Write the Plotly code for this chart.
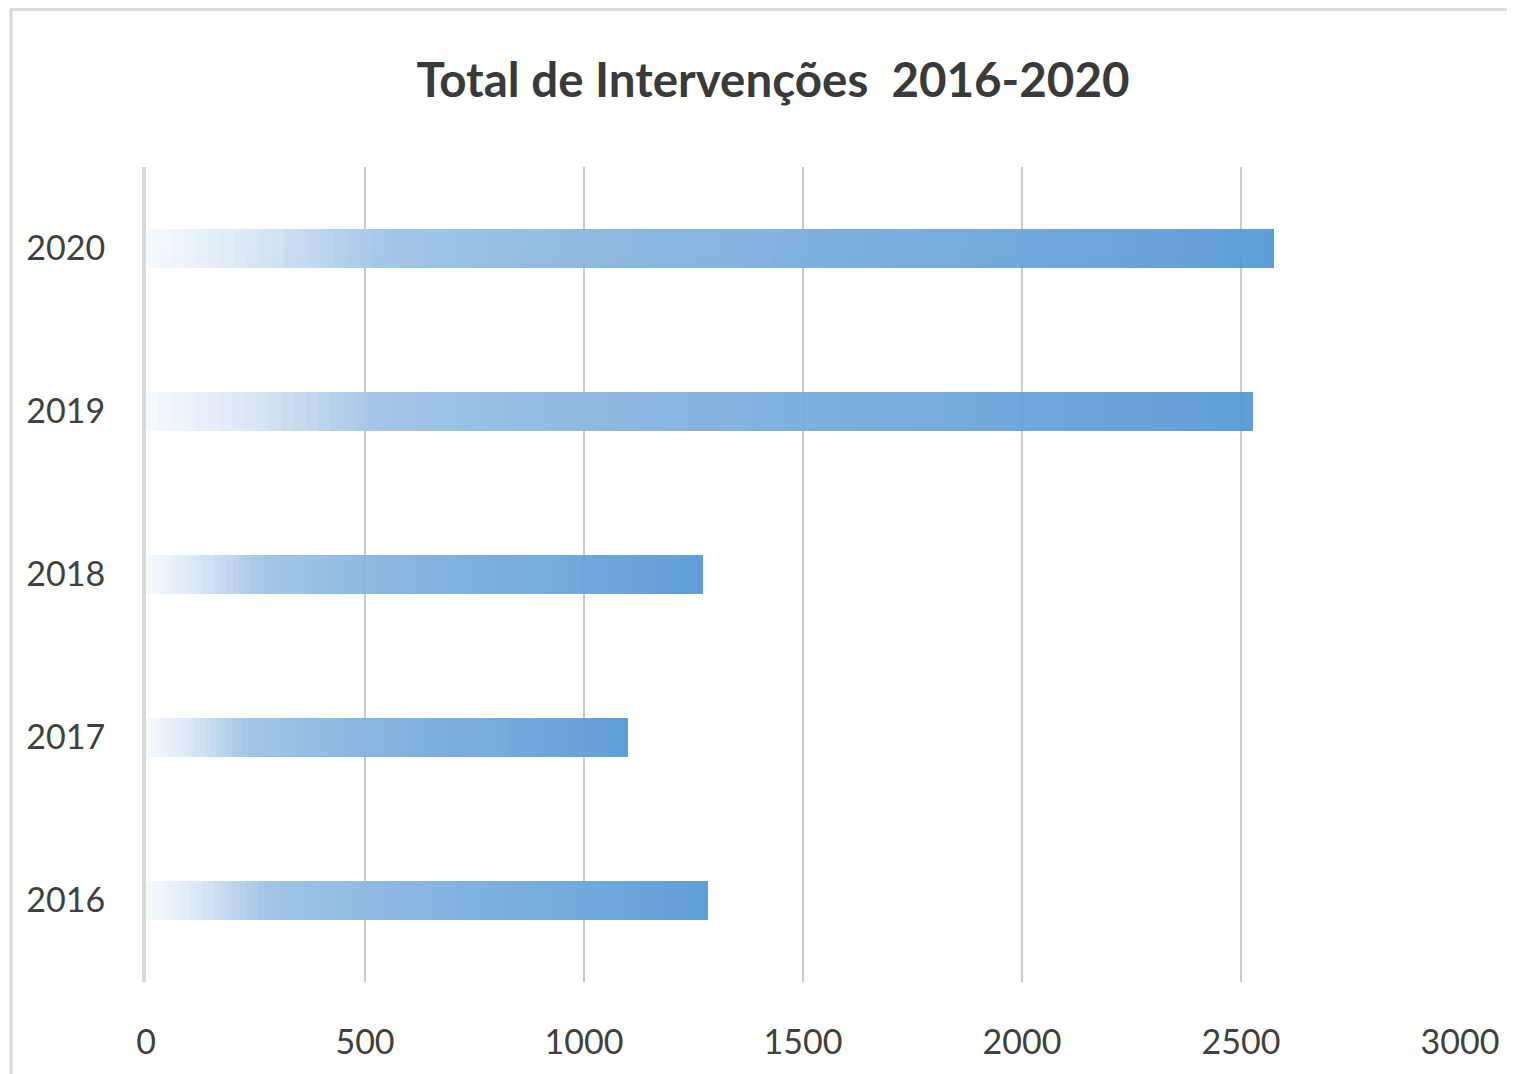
import plotly.graph_objects as go

years = ["2016", "2017", "2018", "2019", "2020"]
values = [1283, 1100, 1272, 2527, 2575]
x_ticks = [0, 500, 1000, 1500, 2000, 2500, 3000]
title_text = "Total de Intervenções  2016-2020"

# gradient stops (fraction along each bar, rgb)
stops = [
    (0.00, (247, 250, 253)),
    (0.10, (214, 229, 244)),
    (0.21, (158, 195, 230)),
    (0.45, (132, 179, 223)),
    (0.75, (108, 166, 219)),
    (1.00, (88, 153, 212)),
]


def interp(t):
    for (t0, c0), (t1, c1) in zip(stops[:-1], stops[1:]):
        if t0 <= t <= t1:
            f = (t - t0) / (t1 - t0) if t1 > t0 else 0
            return "rgb(%d,%d,%d)" % tuple(round(a + (b - a) * f) for a, b in zip(c0, c1))
    return "rgb(%d,%d,%d)" % stops[-1][1]


N = 90
fig = go.Figure()
for k in range(N):
    t = (k + 0.5) / N
    fig.add_trace(go.Bar(
        y=years,
        x=[v / N for v in values],
        orientation="h",
        marker=dict(color=interp(t), line=dict(width=0)),
        opacity=0.95,
        hoverinfo="skip",
        showlegend=False,
    ))

OFF = 8  # page body margin
W, H = 1515 - OFF, 1074 - OFF
L, T = 146 - OFF, 167 - OFF
R = W - (1460 - OFF)
B = H - (982 - OFF)
pw, ph = W - L - R, H - T - B

FONT = "Lato, Open Sans, sans-serif"

fig.update_layout(
    width=W, height=H,
    barmode="stack",
    bargap=0.76,
    plot_bgcolor="white",
    paper_bgcolor="white",
    margin=dict(l=L, r=R, t=T, b=B),
    font=dict(family=FONT, color="#404040"),
    title=dict(
        text="<b>" + title_text + "</b>",
        font=dict(size=47.5, color="#3a3a3a", family=FONT),
        x=(773 - 146) / pw, xref="paper", xanchor="center",
        y=1 - (80 - OFF) / H, yref="container", yanchor="middle",
    ),
    xaxis=dict(
        range=[0, 3000],
        tickvals=x_ticks,
        ticktext=[str(v) for v in x_ticks],
        showgrid=True, gridcolor="#cacaca", gridwidth=2,
        zeroline=False, showline=False,
        ticks="", ticklabelstandoff=37,
        tickfont=dict(size=34, color="#404040"),
    ),
    yaxis=dict(
        type="category",
        categoryorder="array", categoryarray=years,
        showgrid=False, zeroline=False,
        showline=True, linecolor="#d9d9d9", linewidth=4,
        ticks="", ticklabelstandoff=30,
        tickfont=dict(size=34, color="#404040"),
    ),
    shapes=[dict(
        type="rect", xref="paper", yref="paper",
        x0=(11 - 146) / pw, x1=1.2,
        y0=-0.3, y1=(982 - 9.5) / ph,
        line=dict(color="#d9d9d9", width=3),
        fillcolor="rgba(0,0,0,0)", layer="below",
    )],
)

fig.write_html("out.html")
